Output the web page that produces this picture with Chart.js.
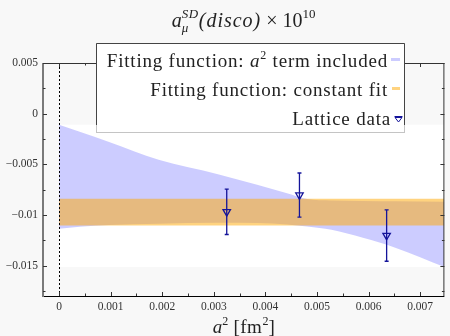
<!DOCTYPE html>
<html>
<head>
<meta charset="utf-8">
<script src="https://cdn.jsdelivr.net/npm/chart.js@4.4.1/dist/chart.umd.min.js"></script>
<style>
  html, body { margin: 0; padding: 0; background: #f8f8f8; }
  canvas { display: block; }
</style>
</head>
<body>
<canvas id="c" width="450" height="336"></canvas>
<script>
// Lattice results: a^2 [fm^2], value, uncertainty
const latticeA2  = [0.00325, 0.00466, 0.00635];
const latticeVal = [-0.00969, -0.00804, -0.01203];
const latticeErr = [0.00224, 0.00218, 0.00254];

// Fit including an a^2 term: band edges
const bandA2    = [0, 0.0004, 0.00097, 0.00193, 0.00308, 0.00384, 0.00442, 0.00481, 0.00528, 0.00589, 0.00653, 0.00747];
const bandUpper = [-0.00109, -0.00179, -0.00279, -0.00455, -0.00597, -0.00702, -0.00786, -0.00843, -0.00858, -0.00862, -0.00865, -0.0087];
const bandLower = [-0.01137, -0.01117, -0.0110, -0.01088, -0.01078, -0.0108, -0.01093, -0.01113, -0.01147, -0.01226, -0.01325, -0.01513];

// Constant fit: band edges
const constA2    = [0, 0.00747];
const constUpper = [-0.00841, -0.00841];
const constLower = [-0.01103, -0.01103];

// Axis ticks
const xMajor = [0, 0.001, 0.002, 0.003, 0.004, 0.005, 0.006, 0.007];
const xMinor = [0.0005, 0.0015, 0.0025, 0.0035, 0.0045, 0.0055, 0.0065];
const yMajor = [-0.015, -0.01, -0.005, 0, 0.005];
const yMinor = [-0.0175, -0.0125, -0.0075, -0.0025, 0.0025];

const SERIF = "'Liberation Serif', 'DejaVu Serif', serif";
const BG = '#f8f8f8';
const BLUE_BAND = 'rgba(0,0,255,0.2)';
const ORANGE_BAND = 'rgba(255,168,0,0.5)';
const DATA_COLOR = '#14149a';
const NONE = 'rgba(0,0,0,0)';

function fmt(v) {
  if (Math.abs(v) < 1e-12) return '0';
  return String(+v.toFixed(4)).replace('-', '\u2212');
}

// Draws a sequence of text runs; a run may be a stack (superscript over subscript)
function runWidth(ctx, r) {
  if (r.stack) return Math.max(...r.stack.map(s => runWidth(ctx, s)));
  ctx.font = r.font;
  ctx.letterSpacing = r.ls || '0px';
  return ctx.measureText(r.t).width;
}
function drawRich(ctx, runs, x, y, align) {
  const total = runs.reduce((w, r) => w + runWidth(ctx, r), 0);
  let cx = align === 'right' ? x - total : align === 'center' ? x - total / 2 : x;
  ctx.textAlign = 'left';
  ctx.textBaseline = 'alphabetic';
  for (const r of runs) {
    const w = runWidth(ctx, r);
    const parts = r.stack || [r];
    for (const p of parts) {
      ctx.font = p.font;
      ctx.letterSpacing = p.ls || '0px';
      ctx.fillText(p.t, cx, y + (p.dy || 0));
    }
    cx += w;
  }
  ctx.letterSpacing = '0px';
}

const decor = {
  id: 'decor',
  beforeDraw(chart) {
    const ctx = chart.ctx;
    ctx.save();
    ctx.fillStyle = BG;
    ctx.fillRect(0, 0, chart.width, chart.height);
    ctx.restore();
  },
  beforeDatasetsDraw(chart) {
    // white backdrop spanning the fitted band region
    const { ctx, chartArea } = chart;
    const xs = chart.scales.x, ys = chart.scales.y;
    const x0 = xs.getPixelForValue(bandA2[0]);
    const yTop = ys.getPixelForValue(Math.max(...bandUpper));
    const yBot = ys.getPixelForValue(Math.min(...bandLower));
    ctx.save();
    ctx.fillStyle = '#ffffff';
    ctx.fillRect(x0, yTop, chartArea.right - x0, yBot - yTop);
    ctx.restore();
  },
  afterDatasetsDraw(chart) {
    const { ctx, chartArea } = chart;
    const xs = chart.scales.x, ys = chart.scales.y;
    ctx.save();
    // dashed line at a^2 = 0
    const xz = Math.round(xs.getPixelForValue(0)) + 0.5;
    ctx.strokeStyle = '#000';
    ctx.lineWidth = 1;
    ctx.setLineDash([2, 2]);
    ctx.beginPath();
    ctx.moveTo(xz, chartArea.top);
    ctx.lineTo(xz, chartArea.bottom);
    ctx.stroke();
    ctx.setLineDash([]);
    // error bars
    ctx.strokeStyle = DATA_COLOR;
    ctx.lineWidth = 1.3;
    latticeA2.forEach((a, i) => {
      const px = xs.getPixelForValue(a);
      const yHi = ys.getPixelForValue(latticeVal[i] + latticeErr[i]);
      const yLo = ys.getPixelForValue(latticeVal[i] - latticeErr[i]);
      ctx.beginPath();
      ctx.moveTo(px, yHi); ctx.lineTo(px, yLo);
      ctx.moveTo(px - 2, yHi); ctx.lineTo(px + 2, yHi);
      ctx.moveTo(px - 2, yLo); ctx.lineTo(px + 2, yLo);
      ctx.stroke();
    });
    ctx.restore();
  },
  afterDraw(chart) {
    const { ctx, chartArea } = chart;
    const xs = chart.scales.x, ys = chart.scales.y;
    const L = chartArea.left, R = chartArea.right, T = chartArea.top, B = chartArea.bottom;
    ctx.save();
    // frame
    ctx.lineWidth = 1;
    ctx.strokeStyle = '#333';
    ctx.beginPath();
    ctx.moveTo(L, T + 0.5); ctx.lineTo(R, T + 0.5);
    ctx.moveTo(R - 0.5, T); ctx.lineTo(R - 0.5, B);
    ctx.stroke();
    ctx.strokeStyle = '#000';
    ctx.beginPath();
    ctx.moveTo(L, B + 0.5); ctx.lineTo(R, B + 0.5);
    ctx.stroke();
    ctx.strokeStyle = '#7a7a7a';
    ctx.lineWidth = 2;
    ctx.beginPath();
    ctx.moveTo(L, T); ctx.lineTo(L, B + 1);
    ctx.stroke();
    // inward ticks
    ctx.lineWidth = 1;
    ctx.strokeStyle = '#333';
    ctx.beginPath();
    const xt = (v, len) => {
      const p = Math.round(xs.getPixelForValue(v)) + 0.5;
      ctx.moveTo(p, B); ctx.lineTo(p, B - len);
      ctx.moveTo(p, T); ctx.lineTo(p, T + len);
    };
    const yt = (v, len) => {
      const p = Math.round(ys.getPixelForValue(v)) + 0.5;
      ctx.moveTo(L, p); ctx.lineTo(L + len, p);
      ctx.moveTo(R, p); ctx.lineTo(R - len, p);
    };
    xMajor.forEach(v => xt(v, 4));
    xMinor.forEach(v => xt(v, 2.5));
    yMajor.forEach(v => yt(v, 4));
    yMinor.forEach(v => yt(v, 2.5));
    ctx.stroke();

    // legend box
    const bx0 = 96.5, bx1 = 404.5, by0 = 43.5, by1 = 132.5, byDark = 125;
    ctx.fillStyle = '#ffffff';
    ctx.fillRect(bx0, by0, bx1 - bx0, by1 - by0);
    ctx.strokeStyle = '#c4c4c4';
    ctx.strokeRect(bx0, by0, bx1 - bx0, by1 - by0);
    ctx.strokeStyle = '#444';
    ctx.beginPath();
    ctx.moveTo(bx0, byDark); ctx.lineTo(bx0, by0); ctx.lineTo(bx1, by0); ctx.lineTo(bx1, byDark);
    ctx.stroke();

    const lf = '19px ' + SERIF, lfi = 'italic 19px ' + SERIF, lfs = '12px ' + SERIF;
    const ls = '0.8px';
    ctx.fillStyle = '#222';
    drawRich(ctx, [
      { t: 'Fitting function: ', font: lf, ls },
      { t: 'a', font: lfi, ls },
      { t: '2', font: lfs, dy: -8, ls },
      { t: ' term included', font: lf, ls }
    ], 388, 67, 'right');
    drawRich(ctx, [{ t: 'Fitting function: constant fit', font: lf, ls }], 388, 96, 'right');
    drawRich(ctx, [{ t: 'Lattice data', font: lf, ls }], 391, 124.5, 'right');

    // legend swatches
    ctx.fillStyle = '#ccccff';
    ctx.fillRect(391, 58, 9, 3);
    ctx.fillStyle = '#ffd37f';
    ctx.fillRect(392, 87, 8, 3);
    ctx.strokeStyle = DATA_COLOR;
    ctx.fillStyle = DATA_COLOR;
    ctx.lineWidth = 1;
    ctx.beginPath();
    ctx.moveTo(394.5, 116.5); ctx.lineTo(402.5, 116.5);
    ctx.stroke();
    ctx.beginPath();
    ctx.moveTo(395, 117.5); ctx.lineTo(402, 117.5); ctx.lineTo(398.5, 122);
    ctx.closePath();
    ctx.stroke();

    // title
    const tf = '20px ' + SERIF, tfi = 'italic 20px ' + SERIF;
    const sf = '13px ' + SERIF, sfi = 'italic 13px ' + SERIF;
    ctx.fillStyle = '#222';
    drawRich(ctx, [
      { t: 'a', font: tfi },
      { stack: [{ t: 'SD', font: sfi, dy: -9, ls: '0.5px' }, { t: '\u03bc', font: sfi, dy: 5 }] },
      { t: '(disco)', font: tfi, ls: '1px' },
      { t: ' \u00d7 10', font: tf },
      { t: '10', font: sf, dy: -9 }
    ], (L + R) / 2, 27, 'center');

    // x-axis title
    drawRich(ctx, [
      { t: 'a', font: 'italic 19px ' + SERIF },
      { t: '2', font: lfs, dy: -8 },
      { t: ' [fm', font: lf, ls: '0.5px' },
      { t: '2', font: lfs, dy: -8 },
      { t: ']', font: lf }
    ], (L + R) / 2, 333, 'center');
    ctx.restore();
  }
};

const pts = (xs, ys) => xs.map((x, i) => ({ x, y: ys[i] }));
const tickFont = { family: SERIF, size: 11.5 };

new Chart(document.getElementById('c'), {
  type: 'line',
  data: {
    datasets: [
      { data: pts(bandA2, bandUpper), fill: '+1', backgroundColor: BLUE_BAND, borderColor: NONE, borderWidth: 0,
        pointRadius: 0, cubicInterpolationMode: 'monotone', order: 3 },
      { data: pts(bandA2, bandLower), fill: false, borderColor: NONE, borderWidth: 0,
        pointRadius: 0, cubicInterpolationMode: 'monotone', order: 3 },
      { data: pts(constA2, constUpper), fill: '+1', backgroundColor: ORANGE_BAND, borderColor: NONE, borderWidth: 0,
        pointRadius: 0, order: 2 },
      { data: pts(constA2, constLower), fill: false, borderColor: NONE, borderWidth: 0,
        pointRadius: 0, order: 2 },
      { data: pts(latticeA2, latticeVal), showLine: false, pointStyle: 'triangle', rotation: 180,
        pointRadius: 4.3, borderColor: DATA_COLOR, backgroundColor: NONE, borderWidth: 1.3, order: 1 }
    ]
  },
  options: {
    responsive: false,
    animation: false,
    devicePixelRatio: 1,
    events: [],
    layout: { padding: { top: 63, right: 1, left: 0, bottom: 0 } },
    plugins: { legend: { display: false }, title: { display: false }, tooltip: { enabled: false } },
    scales: {
      x: {
        type: 'linear', min: -0.000312, max: 0.00747,
        grid: { display: false, drawTicks: false }, border: { display: false },
        ticks: { font: tickFont, color: '#333', padding: 4, maxRotation: 0, autoSkip: false, callback: v => fmt(v) },
        afterBuildTicks: s => { s.ticks = xMajor.map(v => ({ value: v })); },
        afterFit: s => { s.height = 40; }
      },
      y: {
        type: 'linear', min: -0.018, max: 0.005,
        grid: { display: false, drawTicks: false }, border: { display: false },
        ticks: { font: tickFont, color: '#333', padding: 5, autoSkip: false, callback: v => fmt(v) },
        afterBuildTicks: s => { s.ticks = yMajor.map(v => ({ value: v })); },
        afterFit: s => { s.width = 43; }
      }
    }
  },
  plugins: [decor]
});
</script>
</body>
</html>
